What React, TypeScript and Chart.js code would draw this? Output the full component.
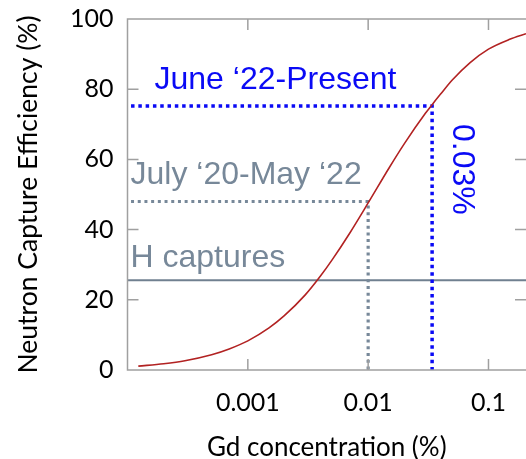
import React, { useEffect, useRef } from "react";
import { Chart, registerables } from "chart.js";

Chart.register(...registerables);

// Gd concentration (%) and neutron capture efficiency (%)
const CURVE_X = [0.000123, 0.0002, 0.0003, 0.0005, 0.0007, 0.001, 0.0015, 0.002, 0.003, 0.004, 0.005, 0.007, 0.01, 0.015, 0.02, 0.03, 0.034, 0.04, 0.05, 0.07, 0.1, 0.15, 0.205];
const CURVE_Y = [1.1, 1.8, 2.65, 4.35, 6.0, 8.3, 12.0, 15.4, 21.4, 26.7, 31.3, 38.9, 47.6, 57.7, 64.5, 73.2, 75.6, 78.6, 82.6, 87.5, 91.4, 94.2, 95.8];

const H_CAPTURES = 25.6;
const JULY_CONC = 0.01;
const JULY_EFF = 48;
const JUNE_CONC = 0.034;
const JUNE_EFF = 75.2;
const GUIDE_START = 0.000107;

const X_MIN = 0.0001;
const X_MAX = 0.205;
const X_TICKS = [0.001, 0.01, 0.1];
const X_TICK_LABELS = ["0.001", "0.01", "0.1"];
const Y_TICKS = [0, 20, 40, 60, 80, 100];

const LABEL_JUNE = "June \u201822-Present";
const LABEL_JULY = "July \u201820-May \u201822";
const LABEL_H = "H captures";
const LABEL_CONC = "0.03%";

const BLUE = "#0a0af5";
const SLATE = "#778899";
const AXIS_GRAY = "#a0a0a0";

const framePlugin = {
  id: "frame",
  afterDatasetsDraw(chart: any) {
    const { ctx, chartArea, scales } = chart;
    const { left, right, top, bottom } = chartArea;
    ctx.save();
    ctx.strokeStyle = AXIS_GRAY;
    ctx.lineWidth = 1.5;
    // frame: left, bottom, top
    ctx.beginPath();
    ctx.moveTo(right + 2, top);
    ctx.lineTo(left, top);
    ctx.lineTo(left, bottom);
    ctx.lineTo(right + 2, bottom);
    ctx.stroke();
    const tl = 11;
    ctx.beginPath();
    for (const v of X_TICKS) {
      const px = scales.x.getPixelForValue(v);
      ctx.moveTo(px, bottom);
      ctx.lineTo(px, bottom - tl);
      ctx.moveTo(px, top);
      ctx.lineTo(px, top + tl);
    }
    for (const v of Y_TICKS) {
      if (v === 0 || v === 100) continue;
      const py = scales.y.getPixelForValue(v);
      ctx.moveTo(left, py);
      ctx.lineTo(left + tl, py);
      ctx.moveTo(right, py);
      ctx.lineTo(right - tl, py);
    }
    ctx.stroke();

    // annotations
    ctx.font = "32px 'Liberation Sans', Arial, sans-serif";
    ctx.textBaseline = "alphabetic";
    ctx.textAlign = "left";
    ctx.fillStyle = BLUE;
    ctx.fillText(LABEL_JUNE, left + 27, scales.y.getPixelForValue(JUNE_EFF) - 17);
    ctx.fillStyle = SLATE;
    ctx.fillText(LABEL_JULY, left + 3, scales.y.getPixelForValue(JULY_EFF) - 18);
    ctx.fillText(LABEL_H, left + 3, scales.y.getPixelForValue(H_CAPTURES) - 13);
    ctx.save();
    ctx.fillStyle = BLUE;
    ctx.translate(scales.x.getPixelForValue(JUNE_CONC) + 21, scales.y.getPixelForValue(JUNE_EFF) + 18);
    ctx.rotate(Math.PI / 2);
    ctx.fillText(LABEL_CONC, 0, 0);
    ctx.restore();
    ctx.restore();
  },
};

export default function App() {
  const ref = useRef<HTMLCanvasElement>(null);
  useEffect(() => {
    if (!ref.current) return;
    const curve = CURVE_X.map((x, i) => ({ x, y: CURVE_Y[i] }));
    const chart = new Chart(ref.current, {
      type: "line",
      data: {
        datasets: [
          {
            data: curve,
            borderColor: "#b22222",
            borderWidth: 1.6,
            pointRadius: 0,
            cubicInterpolationMode: "monotone",
            fill: false,
            order: 0,
          },
          {
            data: [
              { x: GUIDE_START, y: JUNE_EFF },
              { x: JUNE_CONC, y: JUNE_EFF },
              { x: JUNE_CONC, y: 0 },
            ],
            borderColor: BLUE,
            borderWidth: 3.5,
            borderDash: [3.5, 3.8],
            pointRadius: 0,
            tension: 0,
            fill: false,
            order: 1,
          },
          {
            data: [
              { x: GUIDE_START, y: JULY_EFF },
              { x: JULY_CONC, y: JULY_EFF },
              { x: JULY_CONC, y: 0 },
            ],
            borderColor: SLATE,
            borderWidth: 3.2,
            borderDash: [3, 3.7],
            pointRadius: 0,
            tension: 0,
            fill: false,
            order: 2,
          },
          {
            data: [
              { x: X_MIN, y: H_CAPTURES },
              { x: X_MAX, y: H_CAPTURES },
            ],
            borderColor: "#708090",
            borderWidth: 2,
            pointRadius: 0,
            tension: 0,
            fill: false,
            order: 3,
          },
        ],
      },
      options: {
        animation: false,
        responsive: true,
        maintainAspectRatio: false,
        layout: { padding: { top: 19, right: 0, bottom: 0, left: 0 } },
        plugins: { legend: { display: false }, tooltip: { enabled: false } },
        scales: {
          x: {
            type: "logarithmic",
            min: X_MIN,
            max: X_MAX,
            grid: { display: false, drawTicks: false },
            border: { display: false },
            afterBuildTicks: (s: any) => {
              s.ticks = X_TICKS.map((v) => ({ value: v }));
            },
            afterFit: (s: any) => {
              s.height = 89;
              s.paddingLeft = 0;
              s.paddingRight = 0;
            },
            ticks: {
              autoSkip: false,
              maxRotation: 0,
              padding: 18,
              color: "#000",
              font: { family: "Lato", size: 25 },
              callback: (v: any) => {
                const i = X_TICKS.indexOf(Number(v));
                return i >= 0 ? X_TICK_LABELS[i] : "";
              },
            },
            title: {
              display: true,
              text: "Gd concentration (%)",
              color: "#000",
              font: { family: "Lato", size: 26, lineHeight: 1 },
              padding: { top: 0, bottom: -2 },
            },
          },
          y: {
            min: 0,
            max: 100,
            grid: { display: false, drawTicks: false },
            border: { display: false },
            afterFit: (s: any) => {
              s.width = 127.5;
              s.paddingTop = 0;
              s.paddingBottom = 0;
            },
            ticks: {
              stepSize: 20,
              padding: 14,
              color: "#000",
              font: { family: "Lato", size: 25 },
            },
            title: {
              display: true,
              text: "Neutron Capture Efficiency (%)",
              color: "#000",
              font: { family: "Lato", size: 26.5, lineHeight: 1 },
              padding: { top: 15.5, bottom: 0 },
            },
          },
        },
      },
      plugins: [framePlugin],
    });
    return () => chart.destroy();
  }, []);
  return (
    <div style={{ position: "absolute", left: 0, top: 0, width: 526, height: 459 }}>
      <canvas ref={ref} />
    </div>
  );
}
